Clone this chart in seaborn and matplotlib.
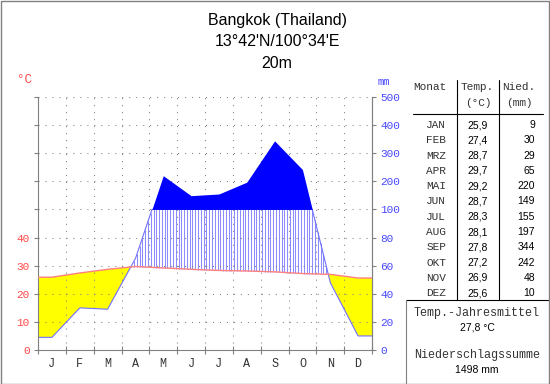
import numpy as np
import matplotlib
matplotlib.use("Agg")
import matplotlib.pyplot as plt
import seaborn as sns
from matplotlib.lines import Line2D
from matplotlib.patches import Rectangle

# ---------------- data ----------------
months_short = ["J", "F", "M", "A", "M", "J", "J", "A", "S", "O", "N", "D"]
months_table = ["JAN", "FEB", "MRZ", "APR", "MAI", "JUN", "JUL", "AUG", "SEP", "OKT", "NOV", "DEZ"]
temp = [25.9, 27.4, 28.7, 29.7, 29.2, 28.7, 28.3, 28.1, 27.8, 27.2, 26.9, 25.6]
prec = [9, 30, 29, 65, 220, 149, 155, 197, 344, 242, 48, 10]
temp_labels_table = ["25,9", "27,4", "28,7", "29,7", "29,2", "28,7", "28,3", "28,1", "27,8", "27,2", "26,9", "25,6"]
temp_tick_labels = ["0", "10", "20", "30", "40"]
prec_tick_labels = ["0", "20", "40", "60", "80", "100", "200", "300", "400", "500"]
title_lines = ["Bangkok (Thailand)", "13°42'N/100°34'E", "20m"]
annual_temp = "27,8 °C"
annual_prec = "1498 mm"


def prec_scale(p):
    p = np.asarray(p, float)
    return np.where(p <= 100, p / 2.0, 50 + (p - 100) / 10.0)


sns.set_style("white")
MONO = "Liberation Mono"
SANS = "Liberation Sans"
plt.rcParams["font.family"] = [SANS, "DejaVu Sans"]

W, H = 550, 384
fig = plt.figure(figsize=(5.5, 3.84), dpi=100)


def fx(x):
    return x / W


def fy(y):
    return 1 - y / H


RED = "#ff4848"
BLUE = "#4848ff"
GRAY = "#808080"

ax = fig.add_axes([fx(38), fy(350), (372 - 38) / W, (350 - 97) / H])
ax.set_xlim(0, 12)
ax.set_ylim(0, 90)

xc = np.arange(12) + 0.5
xs = np.concatenate([[0], xc, [12]])
ts = np.concatenate([[temp[0]], temp, [temp[-1]]])
ps = prec_scale(np.concatenate([[prec[0]], prec, [prec[-1]]]))

xf = np.linspace(0, 12, 2401)
tf = np.interp(xf, xs, ts)
pf = np.interp(xf, xs, ps)

# arid (yellow)
ax.fill_between(xf, pf, tf, where=tf >= pf, color="#ffff00", interpolate=True, lw=0, zorder=1)

# humid hatch
xh = np.arange(0.05, 12, 0.1)
th = np.interp(xh, xs, ts)
ph = np.interp(xh, xs, ps)
m = ph > th
ax.vlines(xh[m], th[m], np.minimum(ph[m], 50), color="#8c8cff", lw=0.75, zorder=1.2)

# grid (dotted)
for yv in range(10, 91, 10):
    ax.axhline(yv, color=GRAY, lw=0.75, ls=(0, (1, 5.7)), zorder=1.5)
for xv in range(1, 12):
    ax.axvline(xv, color=GRAY, lw=0.75, ls=(0, (1, 5.7)), zorder=1.5)

# precipitation line
sns.lineplot(x=xf, y=np.minimum(pf, 50), color="#7070ff", lw=0.8, ax=ax, zorder=2)
# perhumid (solid blue)
ax.fill_between(xf, 50, pf, where=pf >= 50, color="#0000ff", interpolate=True, lw=0, zorder=3)
# temperature line
sns.lineplot(x=xs, y=ts, color="#ff8080", lw=1.0, ax=ax, zorder=4)

# axes styling
for s in ["top"]:
    ax.spines[s].set_visible(False)
for s in ["left", "bottom", "right"]:
    ax.spines[s].set_color(GRAY)
    ax.spines[s].set_linewidth(0.8)

ax.set_yticks(range(0, 91, 10))
ax.set_yticklabels(temp_tick_labels + [""] * 5, fontfamily=MONO, fontsize=8, color=RED)
ax.tick_params(axis="y", direction="out", length=3, color=GRAY, pad=3, left=True)
ax.set_xticks(range(13))
ax.set_xticklabels([])
ax.tick_params(axis="x", which="major", direction="inout", length=6, color=GRAY, bottom=True)
ax.set_xticks(xc, minor=True)
ax.set_xticklabels(months_short, minor=True, fontfamily=MONO, fontsize=8.5, color="#333333")
ax.tick_params(axis="x", which="minor", length=0, pad=6)
ax.set_xlabel("")
ax.set_ylabel("")

ax2 = ax.twinx()
ax2.set_ylim(0, 90)
ax2.set_yticks(range(0, 91, 10))
ax2.set_yticklabels(prec_tick_labels, fontfamily=MONO, fontsize=8, color=BLUE)
ax2.tick_params(axis="y", direction="out", length=3, color=GRAY, pad=3, right=True)
for s in ["top", "left", "bottom"]:
    ax2.spines[s].set_visible(False)
ax2.spines["right"].set_color(GRAY)
ax2.spines["right"].set_linewidth(0.8)
ax2.patch.set_visible(False)

# unit labels
fig.text(fx(32), fy(80), "°C", ha="right", va="center", color=RED, fontfamily=MONO, fontsize=9)
fig.text(fx(378), fy(82), "mm", ha="left", va="center", color=BLUE, fontfamily=MONO, fontsize=7.5)

# title
for i, t in enumerate(title_lines):
    fig.text(fx(277), fy(20 + i * 21.7), t, ha="center", va="center", fontfamily=SANS, fontsize=11.5, color="black")

# table
TXT = "#333333"
fig.text(fx(430), fy(87), "Monat", ha="center", va="center", fontfamily=MONO, fontsize=8, color=TXT)
fig.text(fx(477), fy(87), "Temp.", ha="center", va="center", fontfamily=MONO, fontsize=8, color=TXT)
fig.text(fx(478), fy(103), "(°C)", ha="center", va="center", fontfamily=MONO, fontsize=8, color=TXT)
fig.text(fx(519), fy(87), "Nied.", ha="center", va="center", fontfamily=MONO, fontsize=8, color=TXT)
fig.text(fx(519), fy(103), "(mm)", ha="center", va="center", fontfamily=MONO, fontsize=8, color=TXT)
for i in range(12):
    yy = 125 + i * 15.3
    fig.text(fx(446), fy(yy), months_table[i], ha="right", va="center", fontfamily=MONO, fontsize=8, color=TXT)
    fig.text(fx(488), fy(yy), temp_labels_table[i], ha="right", va="center", fontfamily=SANS, fontsize=7.5, color="black")
    fig.text(fx(535), fy(yy), str(prec[i]), ha="right", va="center", fontfamily=SANS, fontsize=7.5, color="black")

lc = "#000000"
fig.add_artist(Line2D([fx(413), fx(543)], [fy(114), fy(114)], transform=fig.transFigure, color=lc, lw=0.8))
fig.add_artist(Line2D([fx(406), fx(548)], [fy(300), fy(300)], transform=fig.transFigure, color=lc, lw=0.8))
fig.add_artist(Line2D([fx(456.5), fx(456.5)], [fy(80), fy(300)], transform=fig.transFigure, color=lc, lw=0.8))
fig.add_artist(Line2D([fx(499), fx(499)], [fy(80), fy(300)], transform=fig.transFigure, color=lc, lw=0.8))
fig.add_artist(Line2D([fx(406), fx(406)], [fy(300), fy(383)], transform=fig.transFigure, color=GRAY, lw=0.8))

# summary
fig.text(fx(477), fy(313), "Temp.-Jahresmittel", ha="center", va="center", fontfamily=MONO, fontsize=8.5, color=TXT)
fig.text(fx(477), fy(328), annual_temp, ha="center", va="center", fontfamily=SANS, fontsize=7.5, color="black")
fig.text(fx(477), fy(355), "Niederschlagssumme", ha="center", va="center", fontfamily=MONO, fontsize=8.5, color=TXT)
fig.text(fx(477), fy(370), annual_prec, ha="center", va="center", fontfamily=SANS, fontsize=7.5, color="black")

# figure border
fig.add_artist(Rectangle((0.5 / W, 0.5 / H), 1 - 1.5 / W, 1 - 1.5 / H, transform=fig.transFigure,
                         fill=False, edgecolor=GRAY, lw=1.0))

fig.savefig("out.png", dpi=100)
